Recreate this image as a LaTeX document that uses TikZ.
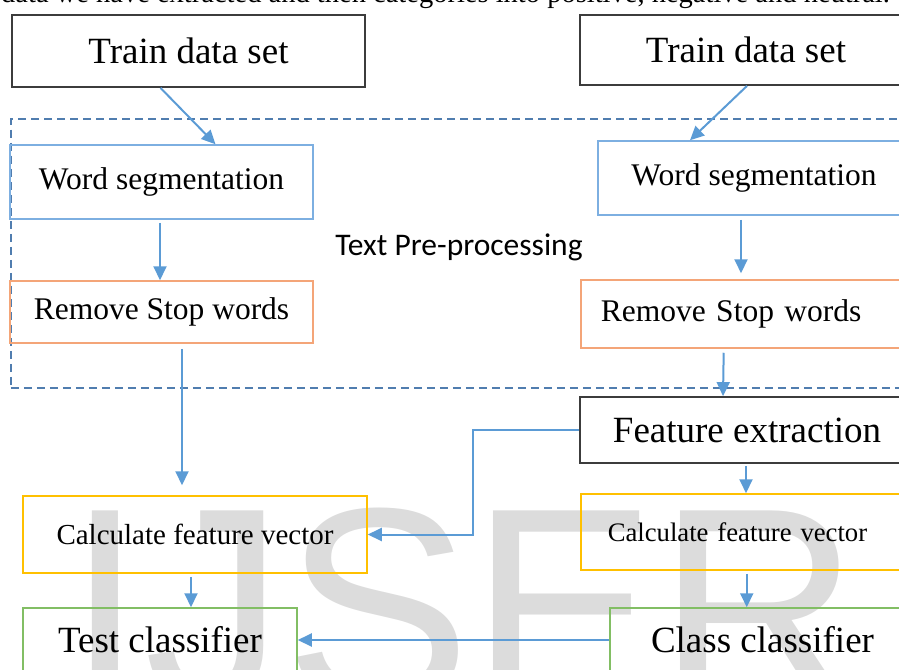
\documentclass[tikz,border=0pt]{standalone}
\usepackage{fontspec}
\setmainfont{Liberation Serif}
\newfontfamily\labelfont{Carlito}
\newfontfamily\markfont{Liberation Sans}
\usetikzlibrary{arrows.meta,positioning,calc}
\definecolor{arrblue}{RGB}{91,155,213}
\definecolor{segblue}{RGB}{125,175,225}
\definecolor{stoporange}{RGB}{244,165,120}
\definecolor{vecyellow}{RGB}{255,192,0}
\definecolor{clsgreen}{RGB}{130,190,100}
\definecolor{dashblue}{RGB}{80,125,175}
\definecolor{markgray}{RGB}{220,220,220}
\definecolor{edgegray}{RGB}{60,60,60}

\begin{document}
\begin{tikzpicture}[x=1pt,y=-1pt,
  % plain boxes (data set, feature extraction)
  blk/.style={draw=edgegray,rectangle,line width=1.8pt,inner sep=0pt,
              align=center,font=\fontsize{37}{40}\selectfont},
  % coloured boxes, colour given as argument
  cbox/.style={draw=#1,rectangle,line width=1.5pt,inner sep=0pt,align=center},
  mid/.style={font=\fontsize{31.5}{34}\selectfont},
  big/.style={font=\fontsize{37}{40}\selectfont},
  % dashed pre-processing frame
  frame/.style={draw=dashblue,rectangle,line width=1.5pt,
                dash pattern=on 8pt off 5pt,inner sep=0pt},
  arr/.style={-{Triangle[length=14pt,width=13pt]},draw=arrblue,line width=2pt}
]
  \useasboundingbox (0,0) rectangle (899,669);
  \clip (0,0) rectangle (899,669);

  % ---- Watermark and cut-off caption line ----
  \node[anchor=base west,inner sep=0pt,text=markgray,
        font=\markfont\fontsize{280}{280}\selectfont] (mark) at (66,703) {IJSER};
  \node[anchor=base west,inner sep=0pt,font=\fontsize{28.5}{30}\selectfont]
        (caption) at (1,3) {data we have extracted and then categories into positive, negative and neutral.};

  % ---- Pre-processing frame ----
  \node[frame,anchor=north west,minimum width=900,minimum height=269] (frame) at (10,118) {};
  \node[anchor=base,font=\labelfont\fontsize{31.5}{33}\selectfont] (prep) at (459,255) {Text Pre-processing};

  % ---- Left column ----
  \node[blk,minimum width=353,minimum height=72] (ltrain) at (188.5,51) {Train data set};
  \node[cbox=segblue,mid,minimum width=303,minimum height=74] (lws) at (161.5,182) {Word segmentation};
  \node[cbox=stoporange,mid,minimum width=303,minimum height=62] (lrs) at (161.5,312) {Remove Stop words};
  \node[cbox=vecyellow,font=\fontsize{29}{31}\selectfont,
        minimum width=344,minimum height=77] (lcfv) at (195,534.5) {Calculate feature vector};
  \node[cbox=clsgreen,big,minimum width=274,minimum height=64] (test) at (160,640) {Test classifier};

  % ---- Right column ----
  \node[blk,minimum width=332,minimum height=70] (rtrain) at (746,50) {Train data set};
  \node[cbox=segblue,mid,minimum width=312,minimum height=74] (rws) at (754,178) {Word segmentation};
  \node[cbox=stoporange,mid,anchor=west,text width=290pt,inner xsep=20pt,
        align=left,minimum height=68] (rrs) at (580,314) {Remove Stop words};
  \node[blk,minimum width=334,minimum height=66] (feat) at (747,430) {Feature extraction};
  \node[cbox=vecyellow,font=\fontsize{26.7}{29}\selectfont,anchor=west,text width=290pt,
        inner xsep=27pt,align=left,minimum height=76] (rcfv) at (580,532) {Calculate feature vector};
  \node[cbox=clsgreen,big,minimum width=305,minimum height=64] (cls) at (762.5,640) {Class classifier};

  % ---- Connectors ----
  \draw[arr] ([xshift=-28pt]ltrain.south) -- ([xshift=54pt]lws.north);
  \draw[arr] ([xshift=1pt]rtrain.south) -- ([xshift=-64pt]rws.north);
  \draw[arr,shorten <=3pt] ([xshift=-1.5pt]lws.south) -- ([xshift=-1.5pt]lrs.north);
  \draw[arr,shorten <=4pt,shorten >=6pt] ([xshift=-13pt]rws.south) -- ([xshift=-13pt]rws.south |- rrs.north);
  \draw[arr,shorten <=5pt,shorten >=10pt] ([xshift=20.5pt]lrs.south) -- ([xshift=20.5pt]lrs.south |- lcfv.north);
  \draw[arr,shorten <=4pt] ([xshift=-22pt]rrs.south) -- ([xshift=-24pt]feat.north);
  \draw[arr,shorten <=2pt] ([xshift=-1pt]feat.south) -- ([xshift=-1pt]feat.south |- rcfv.north);
  \draw[arr,shorten <=3pt] ([xshift=-6pt]rcfv.south) -- ([xshift=-6pt]rcfv.south |- cls.north);
  \draw[arr,shorten <=3pt] ([xshift=-4pt]lcfv.south) -- ([xshift=-4pt]lcfv.south |- test.north);
  \coordinate (elbow) at (473,430);
  \draw[arr] (feat.west) -- (elbow) |- (lcfv.east);
  \draw[arr] (cls.west) -- (test.east);
\end{tikzpicture}
\end{document}
